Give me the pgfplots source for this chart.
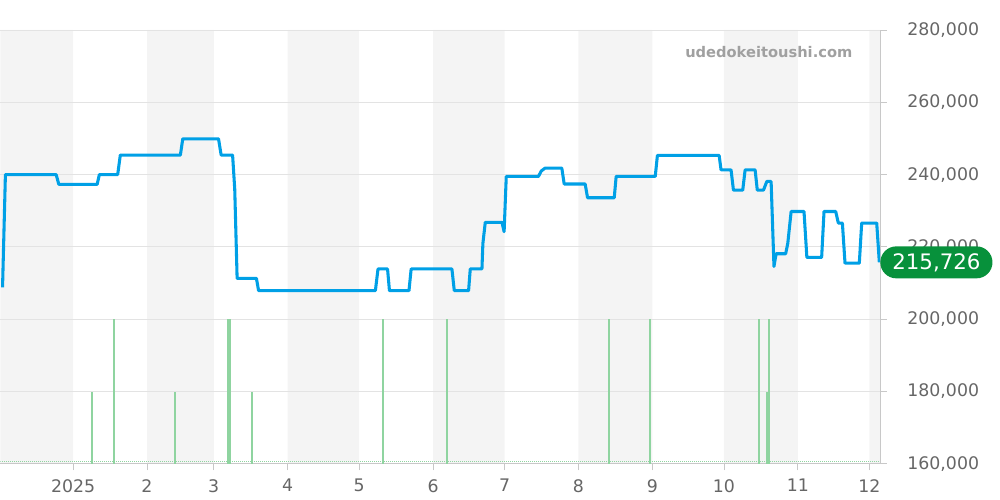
\documentclass[border=0pt]{standalone}
\usepackage{fontspec}
\setmainfont{DejaVu Sans}
\usepackage{pgfplots}
\pgfplotsset{compat=1.18}
\usepackage{pgfplotstable}

\definecolor{band}{HTML}{F4F4F4}
\definecolor{gridc}{HTML}{E3E3E3}
\definecolor{axisc}{HTML}{C8C8C8}
\definecolor{price}{HTML}{00A0E6}
\definecolor{vol}{HTML}{8FD4A0}
\definecolor{tickc}{HTML}{666666}
\definecolor{badge}{HTML}{07913B}
\definecolor{wmark}{HTML}{A0A0A0}

% x = days since 2025-01-01
\pgfplotstableread{
day price
-29.6 208800
-28.4 240000
-7.1 240000
-6.0 237300
10.1 237300
11.0 240000
18.7 240000
19.8 245400
45.0 245400
46.0 249900
61.0 249900
62.1 245400
66.9 245400
67.8 236000
68.8 211300
76.9 211300
77.8 207900
126.8 207900
127.9 213900
131.9 213900
132.7 207900
140.9 207900
141.8 213900
158.9 213900
159.9 207900
165.9 207900
166.6 213900
171.5 213900
171.9 221000
172.9 226800
179.9 226800
180.8 224200
181.7 239500
195.2 239500
196.4 241000
198.0 241800
205.0 241800
206.0 237400
214.8 237400
215.8 233600
227.0 233600
227.8 239500
244.2 239500
245.1 245300
271.0 245300
271.8 241300
276.0 241300
277.0 235700
280.9 235700
281.9 241300
286.1 241300
287.0 235700
289.6 235700
291.0 238100
292.8 238100
294.0 214600
294.9 218100
298.9 218100
299.8 221000
301.2 229800
306.6 229800
307.8 217100
314.0 217100
315.0 229800
319.9 229800
321.0 226600
322.7 226600
323.8 215500
329.8 215500
330.8 226600
337.1 226600
338.2 215726
}\pricedata

% sales count per day
\pgfplotstableread{
day count
8.0 1
17.0 2
42.9 1
65.0 2
66.0 2
75.1 1
130.0 2
156.8 2
225.0 2
242.1 2
287.9 2
291.0 1
291.8 2
}\voldata

\begin{document}
\begin{tikzpicture}
\pgfplotsset{set layers}
\begin{axis}[
  at={(0,0)}, anchor=south west,
  scale only axis, width=660pt, height=325.5pt,
  xmin=-30.5, xmax=338.5, ymin=160000, ymax=280000,
  axis x line*=bottom, axis y line*=right,
  axis line style={axisc, line width=0.6pt},
  xtick={0,31,59,90,120,151,181,212,243,273,304,334},
  xticklabels={2025,2,3,4,5,6,7,8,9,10,11,12},
  ytick={160000,180000,...,280000},
  scaled y ticks=false,
  yticklabel style={/pgf/number format/fixed, /pgf/number format/1000 sep={,}},
  /pgf/number format/assume math mode=true,
  tick label style={font=\fontsize{13}{13}\selectfont, text=tickc},
  xticklabel style={yshift=-3pt},
  yticklabel style={xshift=12pt},
  tick align=outside,
  major tick length=5pt,
  tick style={axisc, line width=0.6pt},
  ymajorgrids, grid style={gridc, line width=0.6pt},
  clip mode=individual,
]
  % alternating month bands
  \addplot[const plot, fill=band, draw=none, on layer=axis background] coordinates {
    (-31,280000) (0,100000) (31,280000) (59,100000) (90,280000) (120,100000)
    (151,280000) (181,100000) (212,280000) (243,100000) (273,280000) (304,100000)
    (334,280000) (340,280000)
  } \closedcycle;
  \addplot[price, line width=2.3pt, line join=round] table[x=day, y=price] {\pricedata};
  \coordinate (cur) at (axis cs:338.5,215726);
\end{axis}
\begin{axis}[
  at={(0,0)}, anchor=south west,
  scale only axis, width=660pt, height=325.5pt,
  xmin=-30.5, xmax=338.5, ymin=0, ymax=6,
  hide axis,
]
  \addplot[vol, line width=0.5pt, densely dotted] coordinates {(-30.5,0.03) (338,0.03)};
  \addplot[ycomb, vol, line width=1.5pt, mark=none] table[x=day, y=count] {\voldata};
\end{axis}
\node[fill=badge, text=white, rounded corners=12pt, anchor=west, minimum height=24pt,
  inner xsep=9pt, font=\fontsize{16}{16}\selectfont] at (cur) {215,726};
\node[anchor=east, font=\bfseries\fontsize{11}{12}\selectfont, text=wmark] at (642.75pt,309pt) {udedokeitoushi.com};
\path[use as bounding box] (0,-27pt) rectangle (750pt,348pt);
\end{tikzpicture}
\end{document}
